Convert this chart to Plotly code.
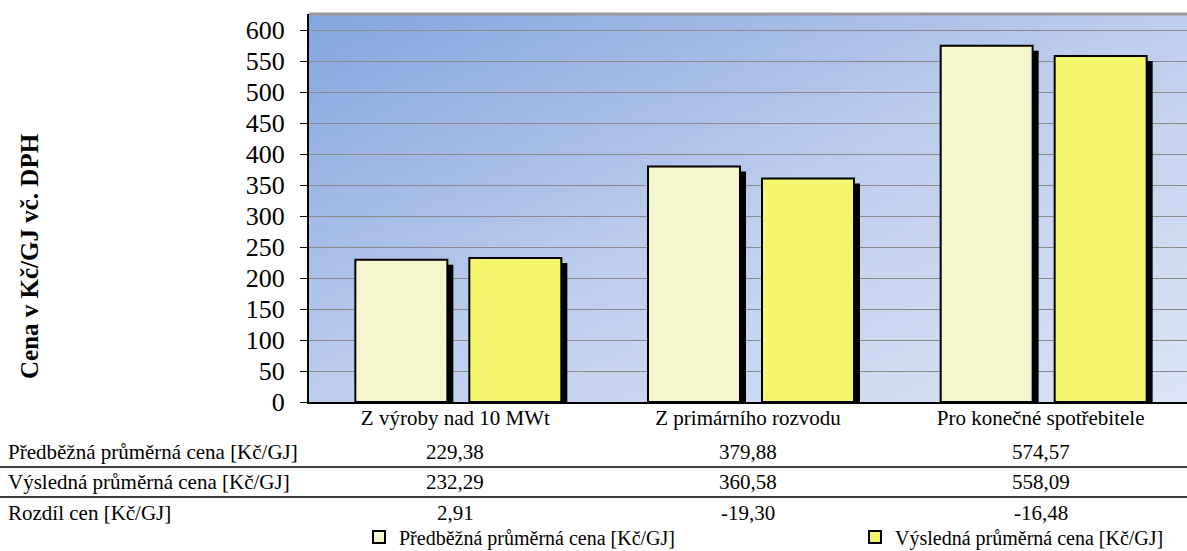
import zlib, struct, base64
import numpy as np
import plotly.graph_objects as go

# ---------------- data ----------------
categories = ["Z výroby nad 10 MWt", "Z primárního rozvodu", "Pro konečné spotřebitele"]
series_names = ["Předběžná průměrná cena [Kč/GJ]", "Výsledná průměrná cena [Kč/GJ]"]
predbezna = [229.38, 379.88, 574.57]
vysledna = [232.29, 360.58, 558.09]
diff_label = "Rozdíl cen [Kč/GJ]"
y_ticks = [0, 50, 100, 150, 200, 250, 300, 350, 400, 450, 500, 550, 600]
y_title = "Cena v Kč/GJ vč. DPH"

# ---------------- layout constants ----------------
W, H = 1187, 551
ML, MR, MT, MB = 309, 0, 14, 149
PW, PH = W - ML - MR, H - MT - MB
YMAX = 625.8
FONT = "Liberation Serif"
colors = ["#F5F6CE", "#F5F76E"]

def fmt(v):
    return f"{v:.2f}".replace(".", ",")

def py2paper(py):
    return (MT + PH - py) / PH

def px2paper(px):
    return (px - ML) / PW

# gradient background image
def gradient_uri(w=220, h=100):
    xs = np.linspace(0, 1, w)[None, :]
    ys = np.linspace(0, 1, h)[:, None]
    t = (xs + ys) / 2.0
    c0 = np.array([134, 166, 224], float)
    c1 = np.array([190, 206, 237], float)
    c2 = np.array([220, 229, 247], float)
    t3 = t[..., None]
    img = np.where(t3 < 0.5, c0 + (c1 - c0) * (t3 / 0.5), c1 + (c2 - c1) * ((t3 - 0.5) / 0.5))
    img = np.clip(img, 0, 255).astype(np.uint8)
    raw = b"".join(b"\x00" + img[r].tobytes() for r in range(h))

    def chunk(tag, data):
        c = struct.pack(">I", len(data)) + tag + data
        return c + struct.pack(">I", zlib.crc32(tag + data) & 0xFFFFFFFF)

    png = (b"\x89PNG\r\n\x1a\n"
           + chunk(b"IHDR", struct.pack(">IIBBBBB", w, h, 8, 2, 0, 0, 0))
           + chunk(b"IDAT", zlib.compress(raw, 9))
           + chunk(b"IEND", b""))
    return "data:image/png;base64," + base64.b64encode(png).decode()

# bar geometry (category units)
bar_w = 92 / (PW / 3)
offsets = [-100 / (PW / 3), 14 / (PW / 3)]
sh_dx = 6 / (PW / 3)
sh_dy = 5 * YMAX / PH

fig = go.Figure()
for vals, off in zip([predbezna, vysledna], offsets):
    fig.add_trace(go.Bar(
        x=categories, y=[v - sh_dy for v in vals], width=bar_w, offset=off + sh_dx,
        marker=dict(color="black", line=dict(width=0)), showlegend=False, hoverinfo="skip"))
legend_ids = ["legend", "legend2"]
for vals, off, name, col, lg in zip([predbezna, vysledna], offsets, series_names, colors, legend_ids):
    fig.add_trace(go.Bar(
        x=categories, y=vals, width=bar_w, offset=off, name=name, legend=lg,
        marker=dict(color=col, line=dict(color="black", width=2)), hoverinfo="skip"))

annotations = []
# y axis title
annotations.append(dict(text="<b>" + y_title + "</b>", x=px2paper(29), y=py2paper(256), xref="paper", yref="paper",
                        textangle=-90, showarrow=False, font=dict(family=FONT, size=25, color="black"),
                        xanchor="center", yanchor="middle"))
# data table rows
rows = [
    (series_names[0], [fmt(v) for v in predbezna], 452),
    (series_names[1], [fmt(v) for v in vysledna], 482),
    (diff_label, [fmt(b - a) for a, b in zip(predbezna, vysledna)], 513),
]
for label, vals, py in rows:
    annotations.append(dict(text=label, x=px2paper(6), y=py2paper(py), xref="paper", yref="paper",
                            xanchor="left", yanchor="middle", showarrow=False,
                            font=dict(family=FONT, size=21, color="black")))
    for c, v in zip(categories, vals):
        annotations.append(dict(text=v, x=c, y=py2paper(py), xref="x", yref="paper",
                                xanchor="center", yanchor="middle", showarrow=False,
                                font=dict(family=FONT, size=21, color="black")))

shapes = []
for py in (467, 497):
    shapes.append(dict(type="line", xref="paper", yref="paper", x0=px2paper(0), x1=px2paper(W),
                       y0=py2paper(py), y1=py2paper(py), line=dict(color="black", width=1.5)))
# top border of plot area
shapes.append(dict(type="line", xref="paper", yref="paper", x0=0, x1=1, y0=1, y1=1,
                   line=dict(color="#9a9a9a", width=3)))

legend_common = dict(orientation="h", xref="container", yref="container", xanchor="left", yanchor="middle",
                     font=dict(family=FONT, size=20, color="black"), bgcolor="rgba(0,0,0,0)",
                     borderwidth=0, itemwidth=30)

fig.update_layout(
    width=W, height=H,
    margin=dict(l=ML, r=MR, t=MT, b=MB, pad=0, autoexpand=False),
    barmode="overlay",
    paper_bgcolor="white",
    plot_bgcolor="rgba(0,0,0,0)",
    font=dict(family=FONT, color="black"),
    images=[dict(source=gradient_uri(), xref="paper", yref="paper", x=0, y=1, sizex=1, sizey=1,
                 sizing="stretch", xanchor="left", yanchor="top", layer="below")],
    xaxis=dict(type="category", categoryorder="array", categoryarray=categories,
               range=[-0.5, 2.5], showgrid=False, showline=True, linecolor="black", linewidth=2,
               ticks="", tickfont=dict(family=FONT, size=21, color="black"),
               ticklabelstandoff=-4, fixedrange=True),
    yaxis=dict(range=[0, YMAX], tickvals=y_ticks, showgrid=True, gridcolor="#8a8a8a", gridwidth=1,
               showline=True, linecolor="black", linewidth=2, ticks="outside", ticklen=7,
               tickcolor="black", tickfont=dict(family=FONT, size=26, color="black"),
               ticklabelstandoff=10, zeroline=False, fixedrange=True),
    legend=dict(x=359 / W, y=1 - 537 / H, **legend_common),
    legend2=dict(x=855 / W, y=1 - 537 / H, **legend_common),
    annotations=annotations,
    shapes=shapes,
    showlegend=True,
)

fig.write_html("out.html", config={"displayModeBar": False})
